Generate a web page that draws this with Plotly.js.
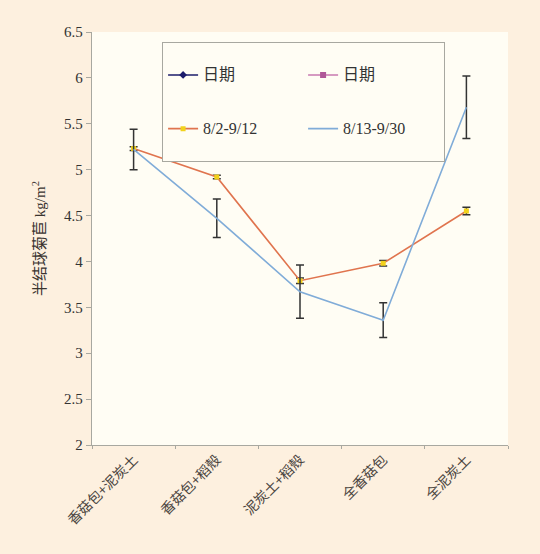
<!DOCTYPE html>
<html>
<head>
<meta charset="utf-8">
<script src="https://cdn.plot.ly/plotly-3.0.1.min.js"></script>
<style>
html,body{margin:0;padding:0;background:#fdf0df;}
#chart{width:540px;height:554px;}
</style>
</head>
<body>
<div id="chart"></div>
<script>
var categories = ["香菇包+泥炭土", "香菇包+稻殼", "泥炭土+稻殼", "全香菇包", "全泥炭土"];
var seriesA = [5.23, 4.92, 3.79, 3.98, 4.55];      // 8/2-9/12
var seriesAErr = [0.02, 0.02, 0.03, 0.03, 0.04];
var seriesB = [5.22, 4.47, 3.67, 3.36, 5.68];      // 8/13-9/30
var seriesBErr = [0.22, 0.21, 0.29, 0.19, 0.34];
var emptySeries = [null, null, null, null, null];  // "日期" legend-only series
var legendNames = ["日期", "日期", "8/2-9/12", "8/13-9/30"];
var yTicks = [2, 2.5, 3, 3.5, 4, 4.5, 5, 5.5, 6, 6.5];

function pad(s){ return "&#160;<br><span style=\"font-size:16px\">" + s + "</span><br>&#160;"; }

var traces = [
  {type:"scatter", mode:"lines+markers", name: pad(legendNames[0]), x:categories, y:emptySeries,
   line:{color:"#1c1c6b", width:1.5}, marker:{symbol:"diamond", size:6, color:"#1c1c6b"}},
  {type:"scatter", mode:"lines+markers", name: pad(legendNames[1]), x:categories, y:emptySeries,
   line:{color:"#c878b0", width:1.5}, marker:{symbol:"square", size:6, color:"#b05898"}},
  {type:"scatter", mode:"lines+markers", name: pad(legendNames[2]), x:categories, y:seriesA,
   line:{color:"#e0744e", width:1.6}, marker:{symbol:"square", size:5, color:"#f2d21c"},
   error_y:{type:"data", array:seriesAErr, visible:true, color:"#333333", thickness:1.5, width:4}},
  {type:"scatter", mode:"lines", name: pad(legendNames[3]), x:categories, y:seriesB,
   line:{color:"#80acd8", width:1.6},
   error_y:{type:"data", array:seriesBErr, visible:true, color:"#333333", thickness:1.5, width:4}}
];

var layout = {
  width:540, height:554,
  paper_bgcolor:"#fdf0df",
  plot_bgcolor:"#fffdf4",
  margin:{l:92, r:32, t:32, b:109, autoexpand:false},
  font:{family:"Liberation Serif, 'Noto Sans CJK SC', serif", color:"#333333", size:14},
  showlegend:true,
  legend:{
    orientation:"h", x:0.168, y:0.976, xanchor:"left", yanchor:"top",
    entrywidth:95, entrywidthmode:"pixels",
    bgcolor:"#fffdf4", bordercolor:"#a8a8a0", borderwidth:1.2,
    font:{family:"Liberation Serif, 'Noto Sans CJK SC', serif", size:13, color:"#333333"},
    traceorder:"normal", valign:"middle"
  },
  xaxis:{
    type:"category", categoryorder:"array", categoryarray:categories,
    range:[-0.5, 4.5],
    showline:true, linecolor:"#a8a8a0", linewidth:1.2,
    ticks:"outside", tickson:"boundaries", ticklen:3, tickcolor:"#a8a8a0",
    tickangle:-45,
    tickfont:{family:"'Noto Sans CJK SC', sans-serif", size:14, color:"#4a4440"},
    showgrid:false, zeroline:false
  },
  yaxis:{
    range:[2, 6.5], tickvals:yTicks, ticktext:yTicks.map(String),
    showline:true, linecolor:"#a8a8a0", linewidth:1.2,
    ticks:"outside", ticklen:5, tickcolor:"#a8a8a0",
    tickfont:{family:"Liberation Serif, serif", size:15, color:"#333333"},
    showgrid:false, zeroline:false,
    title:{text:"半结球菊苣 kg/m<sup>2</sup>", standoff:14,
      font:{family:"Liberation Serif, 'Noto Sans CJK SC', serif", size:15, color:"#3a3430"}}
  }
};

Plotly.newPlot("chart", traces, layout, {displayModeBar:false, staticPlot:true});
</script>
</body>
</html>
